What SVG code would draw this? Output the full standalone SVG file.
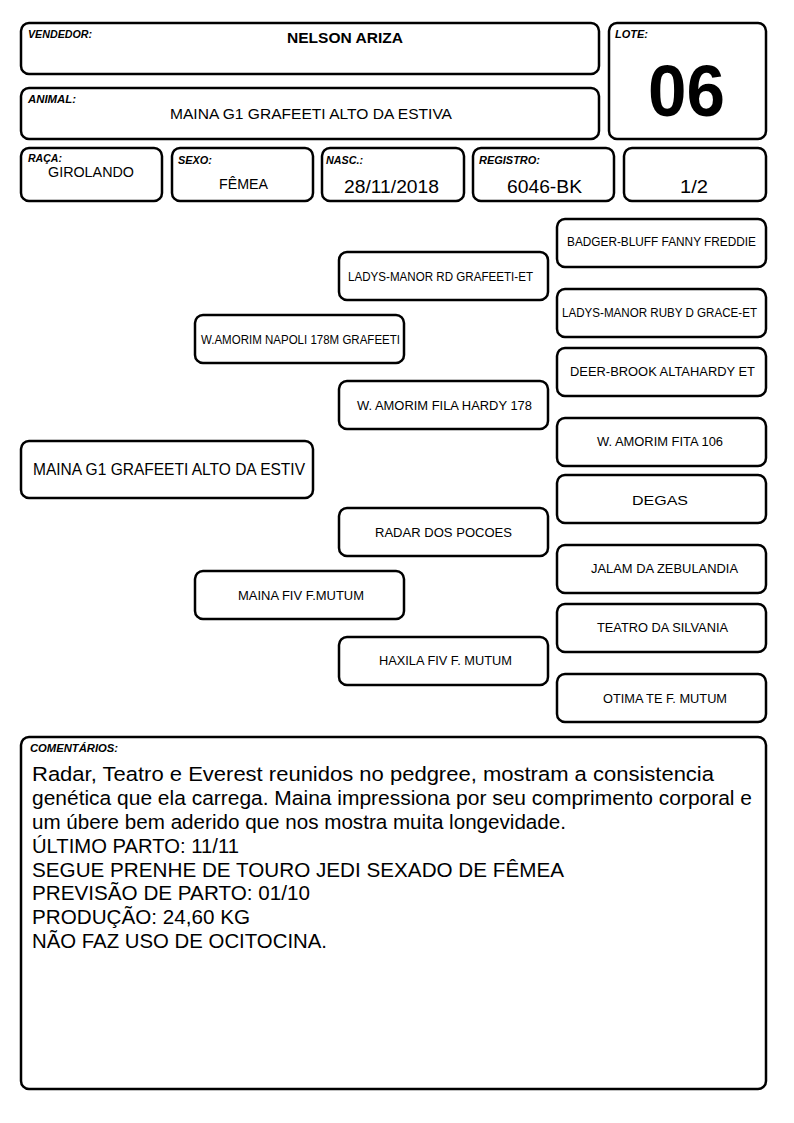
<svg xmlns="http://www.w3.org/2000/svg" width="794" height="1123" viewBox="0 0 794 1123">
<style>
.b{fill:#fff;stroke:#000;stroke-width:2.5}
.lb{font-family:"Liberation Sans",Arial,sans-serif;font-size:10.5px;font-weight:bold;font-style:italic;fill:#000}
.v{font-family:"Liberation Sans",Arial,sans-serif;fill:#000;text-anchor:middle}
.p{font-family:"Liberation Sans",Arial,sans-serif;font-size:12.5px;fill:#000;text-anchor:middle}
.c{font-family:"Liberation Sans",Arial,sans-serif;font-size:20.5px;fill:#000}
</style>
<rect width="794" height="1123" fill="#fff"/>
<g id="vendedor"><rect class="b" x="21" y="23" width="578" height="51" rx="8"/><text class="lb" x="28" y="38" textLength="64" lengthAdjust="spacingAndGlyphs">VENDEDOR:</text><text class="v" x="345" y="43" font-size="15" font-weight="bold" textLength="116" lengthAdjust="spacingAndGlyphs">NELSON ARIZA</text></g>
<g id="animal"><rect class="b" x="21" y="88" width="578" height="51" rx="8"/><text class="lb" x="28" y="103" textLength="48" lengthAdjust="spacingAndGlyphs">ANIMAL:</text><text class="v" x="311" y="119" font-size="15.5" textLength="282" lengthAdjust="spacingAndGlyphs">MAINA G1 GRAFEETI ALTO DA ESTIVA</text></g>
<g id="lote"><rect class="b" x="609" y="23" width="157" height="116" rx="8"/><text class="lb" x="615" y="38" textLength="33" lengthAdjust="spacingAndGlyphs">LOTE:</text><text class="v" x="686.5" y="116" font-size="72" font-weight="bold" textLength="77" lengthAdjust="spacingAndGlyphs">06</text></g>
<g id="raca"><rect class="b" x="21" y="148" width="141" height="53" rx="8"/><text class="lb" x="28" y="162" textLength="34" lengthAdjust="spacingAndGlyphs">RAÇA:</text><text class="v" x="91" y="177" font-size="15" textLength="86" lengthAdjust="spacingAndGlyphs">GIROLANDO</text></g>
<g id="sexo"><rect class="b" x="172" y="148" width="141" height="53" rx="8"/><text class="lb" x="178" y="164" textLength="34" lengthAdjust="spacingAndGlyphs">SEXO:</text><text class="v" x="243.5" y="189" font-size="15" textLength="49" lengthAdjust="spacingAndGlyphs">FÊMEA</text></g>
<g id="nasc"><rect class="b" x="322" y="148" width="142" height="53" rx="8"/><text class="lb" x="326" y="164" textLength="37" lengthAdjust="spacingAndGlyphs">NASC.:</text><text class="v" x="391.5" y="193" font-size="18" textLength="95" lengthAdjust="spacingAndGlyphs">28/11/2018</text></g>
<g id="registro"><rect class="b" x="473" y="148" width="141" height="53" rx="8"/><text class="lb" x="479" y="164" textLength="61" lengthAdjust="spacingAndGlyphs">REGISTRO:</text><text class="v" x="544.5" y="193" font-size="18" textLength="75" lengthAdjust="spacingAndGlyphs">6046-BK</text></g>
<g id="fracao"><rect class="b" x="624" y="148" width="142" height="53" rx="8"/><text class="v" x="694" y="193" font-size="18" textLength="28" lengthAdjust="spacingAndGlyphs">1/2</text></g>
<g id="root"><rect class="b" x="21" y="441" width="292" height="57" rx="8"/><text class="v" x="169" y="475" font-size="16.5" textLength="272" lengthAdjust="spacingAndGlyphs">MAINA G1 GRAFEETI ALTO DA ESTIV</text></g>
<g id="sire"><rect class="b" x="195" y="315" width="209" height="48" rx="8"/><text class="p" x="300.5" y="344" textLength="199" lengthAdjust="spacingAndGlyphs">W.AMORIM NAPOLI 178M GRAFEETI</text></g>
<g id="dam"><rect class="b" x="195" y="571" width="209" height="48" rx="8"/><text class="p" x="301" y="600" textLength="126" lengthAdjust="spacingAndGlyphs">MAINA FIV F.MUTUM</text></g>
<g id="ss"><rect class="b" x="339" y="252" width="209" height="48" rx="8"/><text class="p" x="440.5" y="281" textLength="185" lengthAdjust="spacingAndGlyphs">LADYS-MANOR RD GRAFEETI-ET</text></g>
<g id="sd"><rect class="b" x="339" y="381" width="209" height="48" rx="8"/><text class="p" x="444.5" y="410" textLength="175" lengthAdjust="spacingAndGlyphs">W. AMORIM FILA HARDY 178</text></g>
<g id="ds"><rect class="b" x="339" y="508" width="209" height="48" rx="8"/><text class="p" x="443.5" y="537" textLength="137" lengthAdjust="spacingAndGlyphs">RADAR DOS POCOES</text></g>
<g id="dd"><rect class="b" x="339" y="637" width="209" height="48" rx="8"/><text class="p" x="445.5" y="665" textLength="133" lengthAdjust="spacingAndGlyphs">HAXILA FIV F. MUTUM</text></g>
<g id="sss"><rect class="b" x="557" y="219" width="209" height="48" rx="8"/><text class="p" x="661.5" y="246" textLength="189" lengthAdjust="spacingAndGlyphs">BADGER-BLUFF FANNY FREDDIE</text></g>
<g id="ssd"><rect class="b" x="557" y="289" width="209" height="48" rx="8"/><text class="p" x="659.5" y="317" textLength="195" lengthAdjust="spacingAndGlyphs">LADYS-MANOR RUBY D GRACE-ET</text></g>
<g id="sds"><rect class="b" x="557" y="348" width="209" height="48" rx="8"/><text class="p" x="662.5" y="376" textLength="185" lengthAdjust="spacingAndGlyphs">DEER-BROOK ALTAHARDY ET</text></g>
<g id="sdd"><rect class="b" x="557" y="418" width="209" height="48" rx="8"/><text class="p" x="660" y="446" textLength="126" lengthAdjust="spacingAndGlyphs">W. AMORIM FITA 106</text></g>
<g id="dss"><rect class="b" x="557" y="475" width="209" height="48" rx="8"/><text class="p" x="660" y="505" font-size="16.5" textLength="56" lengthAdjust="spacingAndGlyphs">DEGAS</text></g>
<g id="dsd"><rect class="b" x="557" y="545" width="209" height="48" rx="8"/><text class="p" x="664.5" y="573" textLength="147" lengthAdjust="spacingAndGlyphs">JALAM DA ZEBULANDIA</text></g>
<g id="dds"><rect class="b" x="557" y="604" width="209" height="48" rx="8"/><text class="p" x="662.5" y="632" textLength="131" lengthAdjust="spacingAndGlyphs">TEATRO DA SILVANIA</text></g>
<g id="ddd"><rect class="b" x="557" y="674" width="209" height="48" rx="8"/><text class="p" x="665" y="703" textLength="124" lengthAdjust="spacingAndGlyphs">OTIMA TE F. MUTUM</text></g>
<g id="connectors"></g>
<g id="comentarios"><rect class="b" x="21" y="737" width="745" height="352" rx="8"/><text class="lb" x="30" y="752" textLength="88" lengthAdjust="spacingAndGlyphs">COMENTÁRIOS:</text>
<text class="c" x="32" y="781" textLength="682" lengthAdjust="spacingAndGlyphs">Radar, Teatro e Everest reunidos no pedgree, mostram a consistencia</text>
<text class="c" x="32" y="805" textLength="720" lengthAdjust="spacingAndGlyphs">genética que ela carrega. Maina impressiona por seu comprimento corporal e</text>
<text class="c" x="32" y="829" textLength="534" lengthAdjust="spacingAndGlyphs">um úbere bem aderido que nos mostra muita longevidade.</text>
<text class="c" x="32" y="853" textLength="207" lengthAdjust="spacingAndGlyphs">ÚLTIMO PARTO: 11/11</text>
<text class="c" x="32" y="877" textLength="532" lengthAdjust="spacingAndGlyphs">SEGUE PRENHE DE TOURO JEDI SEXADO DE FÊMEA</text>
<text class="c" x="32" y="900" textLength="278" lengthAdjust="spacingAndGlyphs">PREVISÃO DE PARTO: 01/10</text>
<text class="c" x="32" y="924" textLength="218" lengthAdjust="spacingAndGlyphs">PRODUÇÃO: 24,60 KG</text>
<text class="c" x="32" y="948" textLength="295" lengthAdjust="spacingAndGlyphs">NÃO FAZ USO DE OCITOCINA.</text>
</g>
</svg>
